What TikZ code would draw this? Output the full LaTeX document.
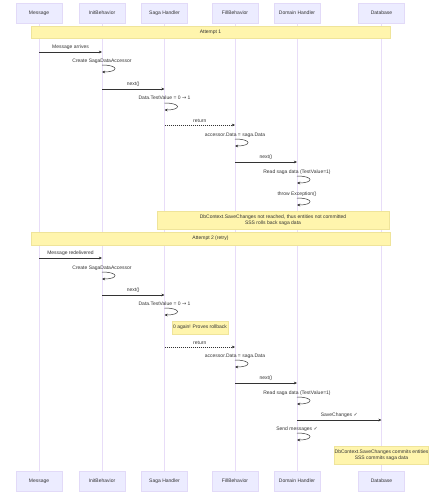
\documentclass[tikz,border=0pt]{standalone}
\usepackage{fontspec}
\setmainfont{Liberation Sans}
\newfontfamily\symfont{DejaVu Sans}
\usepackage{xcolor}
\usepackage{tikz}
\usetikzlibrary{arrows.meta, positioning, calc}
\definecolor{seqdark}{HTML}{333333}
\definecolor{seqactor}{HTML}{ECECFF}
\definecolor{seqactorline}{HTML}{E2DAF8}
\definecolor{seqlife}{HTML}{E8DDF8}
\definecolor{seqnote}{HTML}{FFF5AD}
\definecolor{seqnoteline}{HTML}{EFE49A}
\tikzset{
  actor/.style={draw=seqactorline, fill=seqactor, minimum width=46pt,
                minimum height=20pt, inner sep=0pt, font=\fontsize{5}{6}\selectfont,
                text=seqdark},
  band/.style={draw=seqnoteline, fill=seqnote, minimum width=359pt,
               minimum height=12.5pt, inner sep=0pt, font=\fontsize{5}{6}\selectfont,
               text=seqdark},
  note/.style={band, align=center},
  life/.style={draw=seqlife, line width=0.5pt},
  msg/.style={-{Stealth[length=3.2pt,width=2.8pt]}, draw=seqdark, line width=0.5pt},
  reply/.style={msg, dash pattern=on 1pt off 1pt},
  lbl/.style={font=\fontsize{5}{6}\selectfont, text=seqdark, inner sep=0pt},
}
\newcommand{\ok}{{\symfont\char"2713}}
\newcommand{\gives}{{\symfont\char"2192}}

\begin{document}
\begin{tikzpicture}[x=1pt, y=-1pt]
  \useasboundingbox (0,0) rectangle (446,500);

  % participants
  \node[actor] (msgT) at (39,13) {Message};
  \node[actor] (initT) at (102,13) {InitBehavior};
  \node[actor] (sagaT) at (164.5,13) {Saga Handler};
  \node[actor] (fillT) at (235,13) {FillBehavior};
  \node[actor] (domT) at (297,13) {Domain Handler};
  \node[actor] (dbT) at (381.5,13) {Database};
  \node[actor] (msgB) at (39,481) {Message};
  \node[actor] (initB) at (102,481) {InitBehavior};
  \node[actor] (sagaB) at (164.5,481) {Saga Handler};
  \node[actor] (fillB) at (235,481) {FillBehavior};
  \node[actor] (domB) at (297,481) {Domain Handler};
  \node[actor] (dbB) at (381.5,481) {Database};

  % lifelines
  \foreach \p in {msg, init, saga, fill, dom, db}
    \draw[life] (\p T.south) -- (\p B.north);

  % attempt 1
  \node[band] (att1) at (210.5,32) {Attempt 1};

  \draw[msg] (msgT |- 0,52) -- node[lbl, above=2.5pt] (l1) {Message arrives} (initT |- 0,52);
  \node[lbl] (l2) at (102,61) {Create SagaDataAccessor};
  \draw[msg] (initT |- 0,65) .. controls ($(initT |- 0,65)+(17,0)$) and ($(initT |- 0,72)+(17,0)$) .. (initT |- 0,72);
  \draw[msg] (initT |- 0,89) -- node[lbl, above=2.5pt] (l3) {next()} (sagaT |- 0,89);
  \node[lbl] (l4) at (164.5,98) {Data.TestValue = 0 \gives{} 1};
  \draw[msg] (sagaT |- 0,103) .. controls ($(sagaT |- 0,103)+(17,0)$) and ($(sagaT |- 0,110)+(17,0)$) .. (sagaT |- 0,110);
  \draw[reply] (sagaT |- 0,125) -- node[lbl, above=2.5pt] (l5) {return} (fillT |- 0,125);
  \node[lbl] (l6) at (235,135) {accessor.Data = saga.Data};
  \draw[msg] (fillT |- 0,139) .. controls ($(fillT |- 0,139)+(17,0)$) and ($(fillT |- 0,146)+(17,0)$) .. (fillT |- 0,146);
  \draw[msg] (fillT |- 0,162) -- node[lbl, above=2.5pt] (l7) {next()} (domT |- 0,162);
  \node[lbl] (l8) at (297,172) {Read saga data (TestValue=1)};
  \draw[msg] (domT |- 0,176) .. controls ($(domT |- 0,176)+(17,0)$) and ($(domT |- 0,183)+(17,0)$) .. (domT |- 0,183);
  \node[lbl] (l9) at (297,194) {throw Exception()};
  \draw[msg] (domT |- 0,198) .. controls ($(domT |- 0,198)+(17,0)$) and ($(domT |- 0,205)+(17,0)$) .. (domT |- 0,205);
  \node[note, minimum width=232pt, minimum height=18pt] (n1) at (273,220)
    {DbContext.SaveChanges not reached, thus entities not committed\\ SSS rolls back saga data};

  % attempt 2
  \node[band] (att2) at (210.5,238.5) {Attempt 2 (retry)};

  \draw[msg] (msgT |- 0,258) -- node[lbl, above=2.5pt] (l10) {Message redelivered} (initT |- 0,258);
  \node[lbl] (l11) at (102,268) {Create SagaDataAccessor};
  \draw[msg] (initT |- 0,272) .. controls ($(initT |- 0,272)+(17,0)$) and ($(initT |- 0,279)+(17,0)$) .. (initT |- 0,279);
  \draw[msg] (initT |- 0,295) -- node[lbl, above=2.5pt] (l12) {next()} (sagaT |- 0,295);
  \node[lbl] (l13) at (164.5,304) {Data.TestValue = 0 \gives{} 1};
  \draw[msg] (sagaT |- 0,308) .. controls ($(sagaT |- 0,308)+(17,0)$) and ($(sagaT |- 0,315)+(17,0)$) .. (sagaT |- 0,315);
  \node[note, minimum width=56pt, minimum height=13pt] (n2) at (200,327.5) {0 again! Proves rollback};
  \draw[reply] (sagaT |- 0,347) -- node[lbl, above=2.5pt] (l14) {return} (fillT |- 0,347);
  \node[lbl] (l15) at (235,356) {accessor.Data = saga.Data};
  \draw[msg] (fillT |- 0,360) .. controls ($(fillT |- 0,360)+(17,0)$) and ($(fillT |- 0,367)+(17,0)$) .. (fillT |- 0,367);
  \draw[msg] (fillT |- 0,383) -- node[lbl, above=2.5pt] (l16) {next()} (domT |- 0,383);
  \node[lbl] (l17) at (297,393) {Read saga data (TestValue=1)};
  \draw[msg] (domT |- 0,397) .. controls ($(domT |- 0,397)+(17,0)$) and ($(domT |- 0,404)+(17,0)$) .. (domT |- 0,404);
  \draw[msg] (domT |- 0,420) -- node[lbl, above=2.5pt] (l18) {SaveChanges \ok} (dbT |- 0,420);
  \node[lbl] (l19) at (297,429) {Send messages \ok};
  \draw[msg] (domT |- 0,433) .. controls ($(domT |- 0,433)+(17,0)$) and ($(domT |- 0,440)+(17,0)$) .. (domT |- 0,440);
  \node[note, minimum width=91pt, minimum height=18pt] (n3) at (381.5,455)
    {DbContext.SaveChanges commits entities\\ SSS commits saga data};
\end{tikzpicture}
\end{document}
